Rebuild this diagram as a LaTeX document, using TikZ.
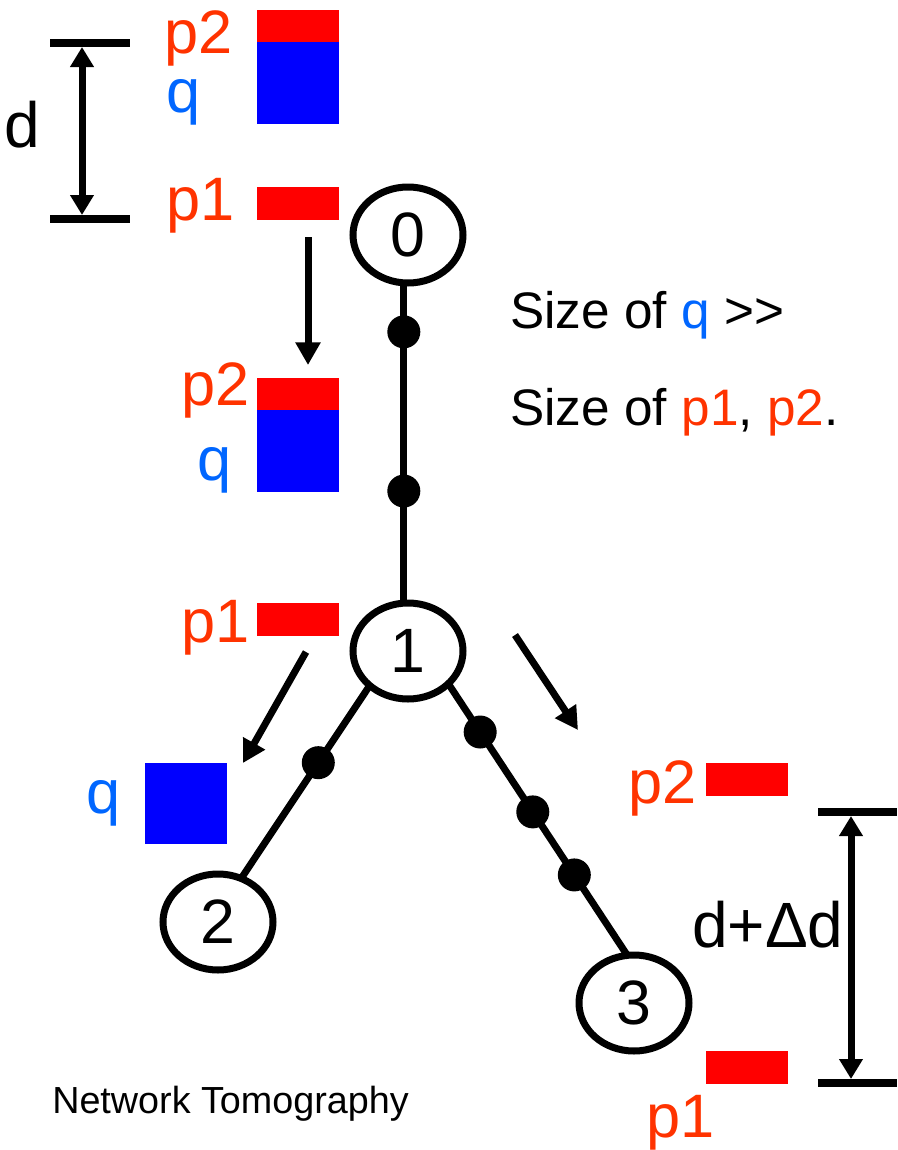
\documentclass[tikz,border=0pt]{standalone}
\usepackage{fontspec}
\setmainfont{Liberation Sans}
\usetikzlibrary{shapes.geometric,arrows.meta}
\definecolor{pktred}{RGB}{255,0,0}
\definecolor{pktblue}{RGB}{0,0,255}
\definecolor{txtred}{RGB}{255,51,0}
\definecolor{txtblue}{RGB}{0,102,255}
\begin{document}
\begin{tikzpicture}[x=0.75pt,y=-0.75pt,
  router/.style={draw, ellipse, line width=5.25pt, fill=white,
    minimum width=82.5pt, minimum height=72pt, inner sep=0pt, outer sep=0pt,
    font=\fontsize{47}{47}\selectfont},
  hop/.style={circle, fill=black, minimum size=24.75pt, inner sep=0pt},
  link/.style={line width=5.25pt},
  move/.style={line width=5.25pt, -{Triangle[length=17pt,width=18pt]}},
  span/.style={line width=5.25pt,
    {Triangle[length=15pt,width=17pt]}-{Triangle[length=15pt,width=17pt]}},
  bar/.style={line width=6pt},
  pkt/.style={rectangle, inner sep=0pt, outer sep=0pt, minimum width=61.5pt},
  plabel/.style={text=txtred, font=\fontsize{46}{46}\selectfont, inner sep=0pt, anchor=base west},
  qlabel/.style={text=txtblue, font=\fontsize{46}{46}\selectfont, inner sep=0pt, anchor=base west},
  biglabel/.style={font=\fontsize{48}{48}\selectfont, inner sep=0pt, anchor=base west},
  note/.style={font=\fontsize{38.5}{38.5}\selectfont, inner sep=0pt, anchor=base west},
  caption/.style={font=\fontsize{28.3}{28.3}\selectfont, inner sep=0pt, anchor=base west}
]
\useasboundingbox (0,0) rectangle (897,1150);

% routers
\node[router] (n0) at (408,235) {0};
\node[router] (n1) at (408,651) {1};
\node[router] (n2) at (218,922) {2};
\node[router] (n3) at (634,1003) {3};

% links with intermediate hops
\draw[link] (n0.265) -- node[hop, pos=0.153] (h01a) {} node[hop, pos=0.65] (h01b) {} (n1.95);
\draw[link] (n1.222) -- node[hop, pos=0.40] (h12) {} (n2.62);
\draw[link] (n1.321) -- node[hop, pos=0.178] (h13a) {} node[hop, pos=0.472] (h13b) {}
  node[hop, pos=0.704] (h13c) {} (n3.98);

% packets leaving router 0
\node[pkt, fill=pktred, minimum height=24pt] (top-p2) at (298,26) {};
\node[pkt, fill=pktblue, minimum height=61.5pt] (top-q) at (298,83) {};
\node[pkt, fill=pktred, minimum height=24.75pt] (top-p1) at (298,203.5) {};
\node[plabel] (lbl-top-p2) at (164,53) {p2};
\node[qlabel] (lbl-top-q) at (166,112) {q};
\node[plabel] (lbl-top-p1) at (166,220) {p1};

% initial spacing d
\coordinate (dtop-l) at (50,43);  \coordinate (dtop-r) at (130,43);
\coordinate (dbot-l) at (50,219); \coordinate (dbot-r) at (130,219);
\draw[bar] (dtop-l) -- (dtop-r);
\draw[bar] (dbot-l) -- (dbot-r);
\coordinate (da) at (82,47); \coordinate (db) at (82,215);
\draw[span] (da) -- (db);
\node[biglabel] (lbl-d) at (4,147) {d};

% packets arriving at router 1
\coordinate (mv0a) at (308,237); \coordinate (mv0b) at (308,365);
\draw[move] (mv0a) -- (mv0b);
\node[pkt, fill=pktred, minimum height=24pt] (mid-p2) at (298,394) {};
\node[pkt, fill=pktblue, minimum height=61.5pt] (mid-q) at (298,451) {};
\node[pkt, fill=pktred, minimum height=24.75pt] (mid-p1) at (298,619.5) {};
\node[plabel] (lbl-mid-p2) at (181,405) {p2};
\node[qlabel] (lbl-mid-q) at (197,480) {q};
\node[plabel] (lbl-mid-p1) at (181,642) {p1};

\node[note] (size1) at (510,328) {Size of \textcolor{txtblue}{q} >\kern0pt>};
\node[note] (size2) at (510,425) {Size of \textcolor{txtred}{p1}, \textcolor{txtred}{p2}.};

% towards router 2
\coordinate (mv1a) at (306,652); \coordinate (mv1b) at (243,763);
\draw[move] (mv1a) -- (mv1b);
\node[pkt, fill=pktblue, minimum width=61.5pt, minimum height=60.75pt] (low-q) at (186,803.5) {};
\node[qlabel] (lbl-low-q) at (86,813) {q};

% towards router 3
\coordinate (mv2a) at (515,635); \coordinate (mv2b) at (578,730);
\draw[move] (mv2a) -- (mv2b);
\node[pkt, fill=pktred, minimum height=24.75pt] (right-p2) at (746.5,779.5) {};
\node[pkt, fill=pktred, minimum height=24.75pt] (right-p1) at (746.5,1067.5) {};
\node[plabel] (lbl-right-p2) at (628,803) {p2};
\node[plabel] (lbl-right-p1) at (646,1137) {p1};

% stretched spacing d + delta d
\coordinate (etop-l) at (818,812);  \coordinate (etop-r) at (897,812);
\coordinate (ebot-l) at (818,1083); \coordinate (ebot-r) at (897,1083);
\draw[bar] (etop-l) -- (etop-r);
\draw[bar] (ebot-l) -- (ebot-r);
\coordinate (ea) at (851,816); \coordinate (eb) at (851,1079);
\draw[span] (ea) -- (eb);
\node[biglabel] (lbl-dd) at (692,947) {d+Δd};

\node[caption] (title) at (52,1113) {Network Tomography};
\end{tikzpicture}
\end{document}
